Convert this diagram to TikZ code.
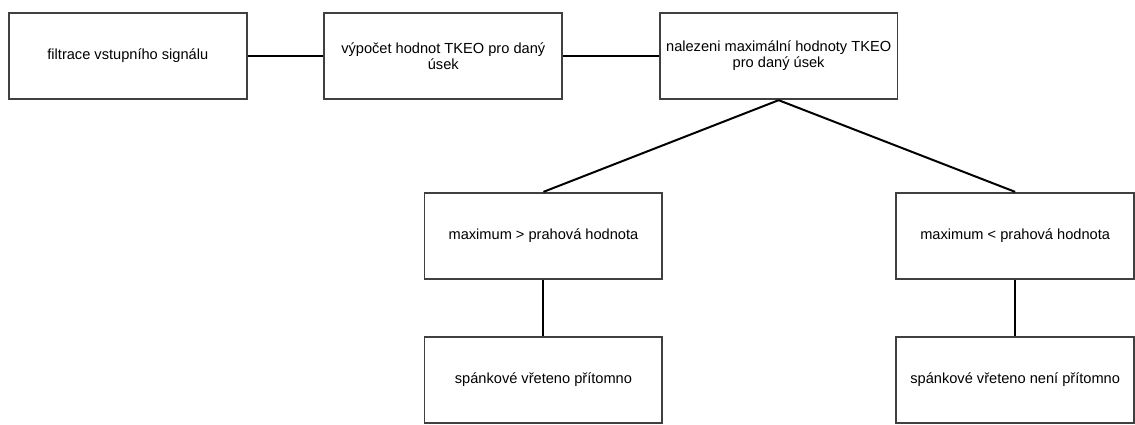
\documentclass[tikz,border=0pt]{standalone}
\usepackage{fontspec}
\setmainfont{Liberation Sans}
\usetikzlibrary{positioning}

\begin{document}
\begin{tikzpicture}[
  node distance=57pt,
  box/.style={draw=black!75,line width=1.4pt,align=center,minimum width=179pt,minimum height=65pt,inner sep=1pt,font=\fontsize{11}{12}\selectfont},
  link/.style={line width=1.5pt}
]
% Row 1
\node[box] (filt) {filtrace vstupního signálu};
\node[box,right=of filt] (tkeo) {výpočet hodnot TKEO pro daný\\úsek};
\node[box,right=72pt of tkeo] (maxi) {nalezeni maximální hodnoty TKEO\\pro daný úsek};
% Row 2
\node[box,below=69pt of maxi,xshift=-177pt] (vetsi) {maximum > prahová hodnota};
\node[box,below=69pt of maxi,xshift=178pt] (mensi) {maximum < prahová hodnota};
% Row 3
\node[box,below=42pt of vetsi] (ano) {spánkové vřeteno přítomno};
\node[box,below=42pt of mensi] (ne) {spánkové vřeteno není přítomno};

\draw[link] (filt) -- (tkeo);
\draw[link] (tkeo) -- (maxi);
\draw[link] (maxi.south) -- (vetsi.north);
\draw[link] (maxi.south) -- (mensi.north);
\draw[link] (vetsi) -- (ano);
\draw[link] (mensi) -- (ne);

\coordinate (tl) at ([xshift=-6pt,yshift=9pt]filt.north west);
\useasboundingbox (tl) rectangle ++(851.25pt,-315.75pt);
\end{tikzpicture}
\end{document}
